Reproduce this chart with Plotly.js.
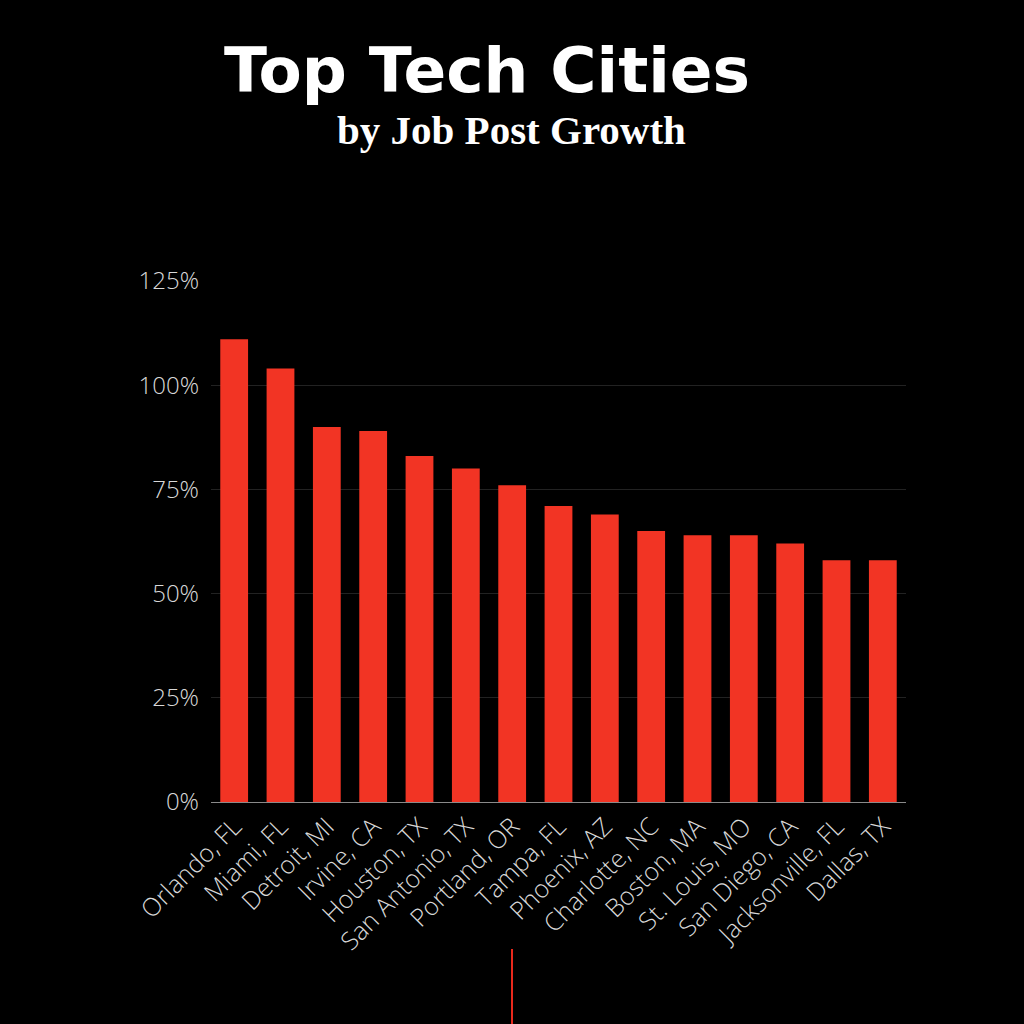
<!DOCTYPE html>
<html><head><meta charset="utf-8">
<script src="https://cdn.plot.ly/plotly-3.0.1.min.js"></script>
<style>html,body{margin:0;padding:0;background:#000;}#chart{width:1024px;height:1024px;}</style>
</head><body><div id="chart"></div>
<script>
const cities = ["Orlando, FL","Miami, FL","Detroit, MI","Irvine, CA","Houston, TX","San Antonio, TX","Portland, OR","Tampa, FL","Phoenix, AZ","Charlotte, NC","Boston, MA","St. Louis, MO","San Diego, CA","Jacksonville, FL","Dallas, TX"];
const growth = [111,104,90,89,83,80,76,71,69,65,64,64,62,58,58];
const yTicks = [0,25,50,75,100,125];
const yTickText = ["0%","25%","50%","75%","100%","125%"];

const trace = {type:'bar', x:cities, y:growth, marker:{color:'#f23424'}, hoverinfo:'x+y'};
const layout = {
  width:1024, height:1024,
  paper_bgcolor:'#000', plot_bgcolor:'#000',
  margin:{l:211, r:118, t:281, b:222},
  bargap:0.4,
  showlegend:false,
  title:{text:'Top Tech Cities', x:487/1024, xanchor:'center', y:1-70/1024, yanchor:'middle',
         font:{family:'DejaVu Sans', size:63, color:'#ffffff', weight:'bold'}},
  xaxis:{tickangle:-45, tickfont:{family:'Open Sans', size:25, color:'#d8d8d8', weight:300},
         showgrid:false, ticks:'', showline:false, ticklabelstandoff:4},
  yaxis:{range:[0,125], tickmode:'array', tickvals:yTicks, ticktext:yTickText, ticks:'',
         ticklabelstandoff:11,
         tickfont:{family:'Open Sans', size:24, color:'#d8d8d8', weight:300},
         gridcolor:'#222222', gridwidth:1, zeroline:true, zerolinecolor:'#8a8a8a', zerolinewidth:1},
  annotations:[{text:'by Job Post Growth', xref:'paper', yref:'paper', x:(511-211)/695, y:(802-130)/521,
    xanchor:'center', yanchor:'middle', showarrow:false,
    font:{family:'Liberation Serif', size:41, color:'#ffffff', weight:'bold'}}],
  shapes:[{type:'line', xref:'paper', yref:'paper', x0:(512-211)/695, x1:(512-211)/695,
    y0:(802-949)/521, y1:(802-1030)/521, line:{color:'#e8291c', width:2}}]
};
Plotly.newPlot('chart',[trace],layout,{displayModeBar:false});
</script></body></html>
